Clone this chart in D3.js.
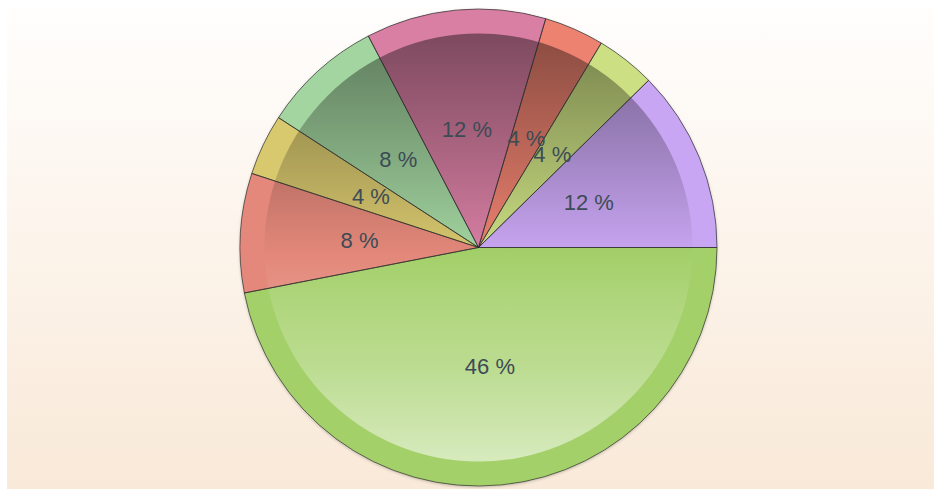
<!DOCTYPE html>
<html>
<head>
<meta charset="utf-8">
<script src="https://cdn.jsdelivr.net/npm/d3@7/dist/d3.min.js"></script>
<style>
    html, body { margin: 0; padding: 0; background: #fff; }
    svg { display: block; }
</style>
</head>
<body>
<div id="chart"></div>
<script>
// slices in drawing order, clockwise from 3 o'clock
const categories = ["Item 1", "Item 2", "Item 3", "Item 4", "Item 5", "Item 6", "Item 7", "Item 8"];
const values = [46.94, 8.08, 4.14, 8.19, 12.19, 4.06, 4.03, 12.36];
const palette = ["#a4d06a", "#e3887a", "#d8c86e", "#a3d5a0", "#d87fa3", "#ee8270", "#cce083", "#c9a6f3"];

const width = 934;
const height = 489;
const cx = 478.5, cy = 247.5;
const radius = 238.5;
const innerR = 214;

let svg = d3.select("#chart").append("svg")
    .attr("width", width).attr("height", height);

let defs = svg.append("defs");

let bg = defs.append("linearGradient").attr("id", "bg")
    .attr("x1", 0).attr("y1", 0).attr("x2", 0).attr("y2", 1);
bg.append("stop").attr("offset", 0).attr("stop-color", "#fffefd");
bg.append("stop").attr("offset", 1).attr("stop-color", "#f9e9d8");

// dark at the top, light at the bottom, laid over the inner disk
let shade = defs.append("linearGradient").attr("id", "shade")
    .attr("gradientUnits", "userSpaceOnUse")
    .attr("x1", 0).attr("y1", -innerR).attr("x2", 0).attr("y2", innerR);
[[0, "#000", 0.42], [0.3, "#000", 0.19], [0.52, "#000", 0], [0.52, "#fff", 0],
 [0.62, "#fff", 0.12], [0.78, "#fff", 0.26], [1, "#fff", 0.56]].forEach((s) => {
    shade.append("stop").attr("offset", s[0]).attr("stop-color", s[1]).attr("stop-opacity", s[2]);
});

let shadow = defs.append("filter").attr("id", "shadow")
    .attr("x", -0.1).attr("y", -0.1).attr("width", 1.2).attr("height", 1.2);
shadow.append("feDropShadow").attr("dx", 0).attr("dy", 1).attr("stdDeviation", 1.5)
    .attr("flood-color", "#000").attr("flood-opacity", 0.25);

svg.append("rect").attr("x", 7).attr("y", 7)
    .attr("width", width - 7).attr("height", height - 7)
    .attr("fill", "url(#bg)");

let g = svg.append("g").attr("transform", `translate(${cx},${cy})`);

let pie = d3.pie().sort(null).value((d) => d)
    .startAngle(Math.PI / 2).endAngle(Math.PI / 2 + 2 * Math.PI);
let arcs = pie(values);

let arc = d3.arc().innerRadius(0).outerRadius(radius);
let total = d3.sum(values);

g.append("circle").attr("r", radius).attr("fill", "#888").attr("filter", "url(#shadow)");

g.append("g").selectAll("path").data(arcs).enter().append("path")
    .attr("d", arc)
    .attr("fill", (d, i) => palette[i]);

g.append("circle").attr("r", innerR).attr("fill", "url(#shade)");

g.append("g").selectAll("path").data(arcs).enter().append("path")
    .attr("d", arc)
    .attr("fill", "none")
    .attr("stroke", "rgba(45,45,45,0.65)")
    .attr("stroke-width", 1);

g.append("g").selectAll("text").data(arcs).enter().append("text")
    .text((d) => Math.floor(d.value / total * 100) + " %")
    .attr("x", (d) => arc.centroid(d)[0])
    .attr("y", (d) => arc.centroid(d)[1] + 8)
    .attr("text-anchor", "middle")
    .attr("font-family", "'Liberation Sans', Arial, sans-serif")
    .attr("font-size", 22)
    .attr("fill", "#3c4b55");
</script>
</body>
</html>
